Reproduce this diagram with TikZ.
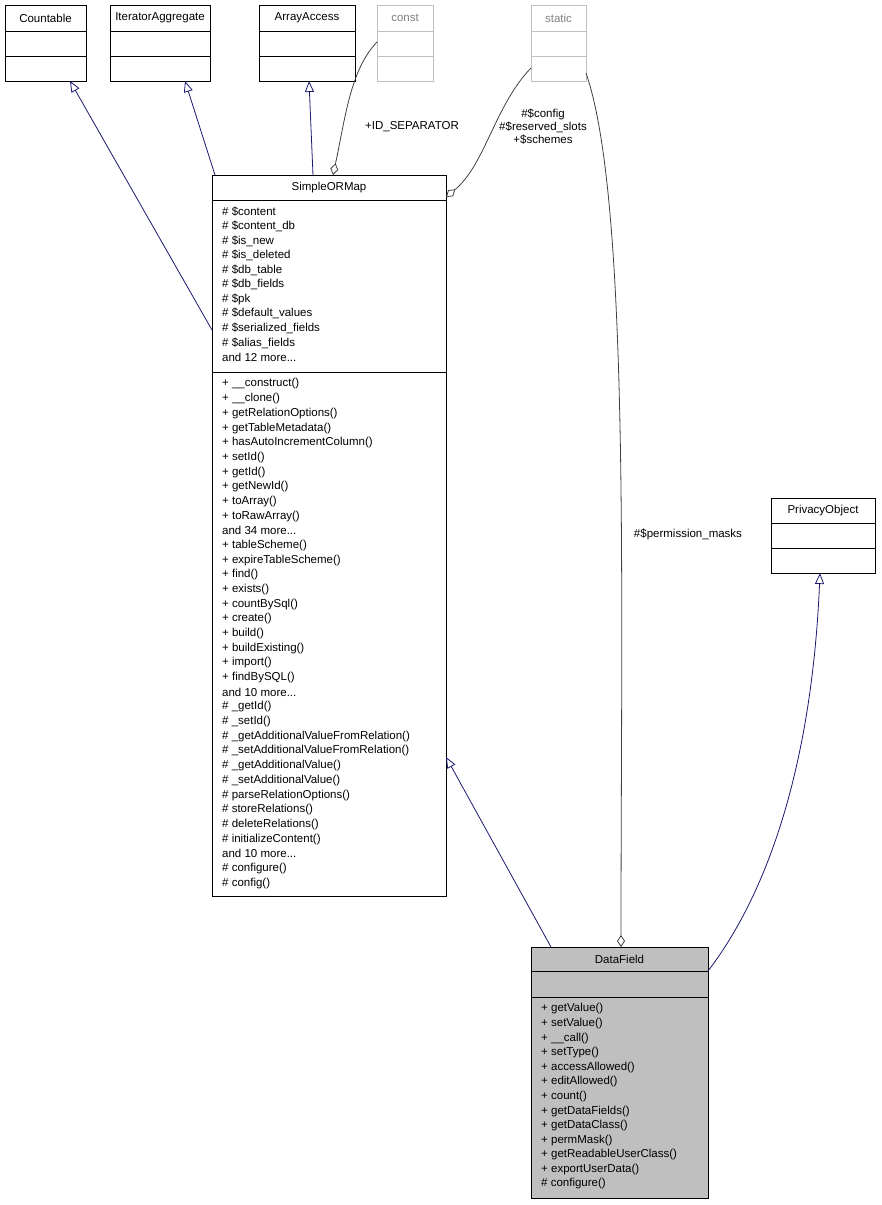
\documentclass[tikz,border=0pt]{standalone}
\usepackage{fontspec}
\setmainfont{Liberation Sans}
\usetikzlibrary{arrows.meta}
\definecolor{edgeblue}{HTML}{191970}
\definecolor{agggray}{HTML}{404040}
\definecolor{boxgray}{HTML}{BFBFBF}
\tikzset{
  box/.style={draw,anchor=north west,inner sep=0pt,line width=0.8pt},
  ttl/.style={inner sep=0pt,font=\fontsize{11.5}{13}\selectfont},
  mem/.style={anchor=west,inner sep=0pt,font=\fontsize{11.5}{13}\selectfont},
  inh/.style={draw=edgeblue,line width=0.8pt,-{Triangle[open,length=11pt,width=9pt]}},
  agg/.style={draw=agggray,line width=0.8pt,{Diamond[open,length=12pt,width=8pt]}-},
  lbl/.style={inner sep=0pt,font=\fontsize{11.5}{13}\selectfont,align=center}
}
\newcommand{\more}[1]{and #1 more.{}.{}.}
\begin{document}
\begin{tikzpicture}[x=1pt,y=-1pt]
  \useasboundingbox (0,0) rectangle (881,1205);

  % interfaces on top
  \node[box,minimum width=81,minimum height=76] (countable) at (5,5) {};
  \draw[line width=0.8pt] (5,31) -- (86,31) (5,56) -- (86,56);
  \node[ttl] at (45.5,18) {Countable};

  \node[box,minimum width=100,minimum height=76] (iter) at (110,5) {};
  \draw[line width=0.8pt] (110,31) -- (210,31) (110,56) -- (210,56);
  \node[ttl] at (160,18) {IteratorAggregate};

  \node[box,minimum width=96,minimum height=76] (arracc) at (259,5) {};
  \draw[line width=0.8pt] (259,31) -- (355,31) (259,56) -- (355,56);
  \node[ttl] at (307,18) {ArrayAccess};

  \node[box,draw=boxgray,minimum width=56,minimum height=76] (const) at (377,5) {};
  \draw[boxgray,line width=0.8pt] (377,31) -- (433,31) (377,56) -- (433,56);
  \node[ttl,text=gray] at (405,18) {const};

  \node[box,draw=boxgray,minimum width=55,minimum height=76] (static) at (531,5) {};
  \draw[boxgray,line width=0.8pt] (531,31) -- (586,31) (531,56) -- (586,56);
  \node[ttl,text=gray] at (558.5,18) {static};

  % SimpleORMap
  \node[box,minimum width=234,minimum height=721] (som) at (212,175) {};
  \draw[line width=0.8pt] (212,200) -- (446,200) (212,372) -- (446,372);
  \node[ttl] at (329,188) {SimpleORMap};
  \foreach \t [count=\i from 0] in {\# \$content,\# \$content\_db,\# \$is\_new,
      \# \$is\_deleted,\# \$db\_table,\# \$db\_fields,\# \$pk,\# \$default\_values,
      \# \$serialized\_fields,\# \$alias\_fields,\more{12}}
    \node[mem] at (222,212+14.55*\i) {\t};
  \foreach \t [count=\i from 0] in {+ \_\_construct(),+ \_\_clone(),+ getRelationOptions(),
      + getTableMetadata(),+ hasAutoIncrementColumn(),+ setId(),+ getId(),+ getNewId(),
      + toArray(),+ toRawArray(),\more{34},+ tableScheme(),+ expireTableScheme(),
      + find(),+ exists(),+ countBySql(),+ create(),+ build(),+ buildExisting(),
      + import(),+ findBySQL(),\more{10},\# \_getId(),\# \_setId(),
      \# \_getAdditionalValueFromRelation(),\# \_setAdditionalValueFromRelation(),
      \# \_getAdditionalValue(),\# \_setAdditionalValue(),\# parseRelationOptions(),
      \# storeRelations(),\# deleteRelations(),\# initializeContent(),\more{10},
      \# configure(),\# config()}
    \node[mem] at (222,384+14.68*\i) {\t};

  % PrivacyObject
  \node[box,minimum width=104,minimum height=75] (privacy) at (771,498) {};
  \draw[line width=0.8pt] (771,523) -- (875,523) (771,548) -- (875,548);
  \node[ttl] at (823,510.5) {PrivacyObject};

  % DataField
  \node[box,fill=boxgray,minimum width=177,minimum height=251] (datafield) at (531,947) {};
  \draw[line width=0.8pt] (531,971) -- (708,971) (531,997) -- (708,997);
  \node[ttl] at (619.5,959) {DataField};
  \foreach \t [count=\i from 0] in {+ getValue(),+ setValue(),+ \_\_call(),+ setType(),
      + accessAllowed(),+ editAllowed(),+ count(),+ getDataFields(),+ getDataClass(),
      + permMask(),+ getReadableUserClass(),+ exportUserData(),\# configure()}
    \node[mem] at (541,1009+14.58*\i) {\t};

  % connection points
  \coordinate (somW) at (212,330);
  \coordinate (somN1) at (215,175);
  \coordinate (somN2) at (313,175);
  \coordinate (somN3) at (333,175);
  \coordinate (somE1) at (446,197);
  \coordinate (somE2) at (446,757);
  \coordinate (constW) at (377,42);
  \coordinate (staticW) at (531,68);
  \coordinate (staticS) at (586,73);
  \coordinate (dfN1) at (551,947);
  \coordinate (dfN2) at (621,947);
  \coordinate (dfE) at (708,971);
  \coordinate (cntS) at (70,81);
  \coordinate (itS) at (185,81);
  \coordinate (aaS) at (309,81);
  \coordinate (poS) at (820,573);

  \draw[inh] (somW) -- (cntS);
  \draw[inh] (somN1) -- (itS);
  \draw[inh] (somN2) -- (aaS);
  \draw[inh] (dfN1) -- (somE2);
  \draw[inh] (dfE) .. controls (770,890) and (812,760) .. (poS);

  \draw[agg] (somN3) .. controls (345,120) and (350,70) .. (constW);
  \draw[agg] (somE1) .. controls (485,165) and (495,105) .. (staticW);
  \draw[agg] (dfN2) .. controls (621,600) and (630,200) .. (staticS);

  \node[lbl] at (412,127) {+ID\_SEPARATOR};
  \node[lbl] at (543,127) {\#\$config\\\#\$reserved\_slots\\+\$schemes};
  \node[lbl] at (688,534) {\#\$permission\_masks};
\end{tikzpicture}
\end{document}
